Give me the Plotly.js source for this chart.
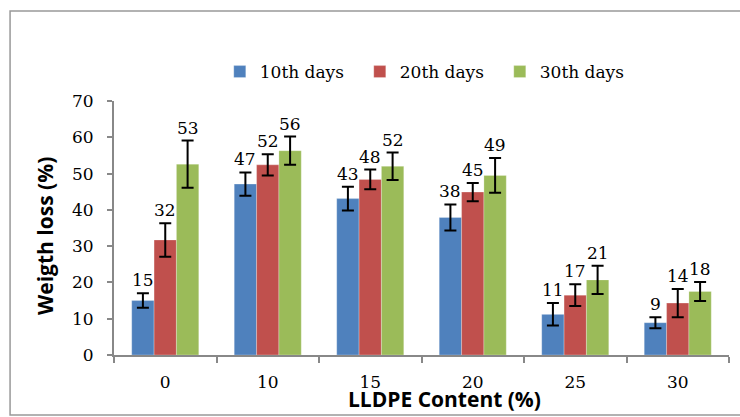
<!DOCTYPE html>
<html>
<head>
<meta charset="utf-8">
<script src="https://cdn.plot.ly/plotly-3.0.1.min.js"></script>
<style>html,body{margin:0;padding:0;background:#fff;}#chart{width:740px;height:417px;}</style>
</head>
<body>
<div id="chart"></div>
<script>
var categories = ['0', '10', '15', '20', '25', '30'];
var seriesNames = ['10th days', '20th days', '30th days'];
var days10 = [15.0, 47.1, 43.1, 37.9, 11.2, 8.9];
var days20 = [31.7, 52.4, 48.4, 44.9, 16.5, 14.3];
var days30 = [52.6, 56.3, 52.0, 49.5, 20.7, 17.5];
var err10 = [2.0, 3.2, 3.3, 3.6, 3.1, 1.5];
var err20 = [4.6, 2.9, 2.7, 2.5, 3.0, 3.9];
var err30 = [6.5, 3.9, 3.8, 4.8, 3.9, 2.6];
var labels10 = ['15', '47', '43', '38', '11', '9'];
var labels20 = ['32', '52', '48', '45', '17', '14'];
var labels30 = ['53', '56', '52', '49', '21', '18'];
var yTicks = [0, 10, 20, 30, 40, 50, 60, 70];

var colors = ['#4F81BD', '#C0504D', '#9BBB59'];
var values = [days10, days20, days30];
var errs = [err10, err20, err30];
var labels = [labels10, labels20, labels30];
var serif = 'DejaVu Serif, Liberation Serif, serif';
var sans = 'Open Sans, Lato, sans-serif';
var bargap = 0.346;
var bw = (1 - bargap) / 3;

var traces = values.map(function (v, j) {
  return {
    type: 'bar', name: seriesNames[j], x: categories, y: v,
    marker: {color: colors[j], line: {color: 'rgba(255,255,255,0.5)', width: 0.5}},
    error_y: {type: 'data', array: errs[j], visible: true, color: '#000', thickness: 2, width: 6},
    hoverinfo: 'none'
  };
});

var annotations = [];
values.forEach(function (v, j) {
  v.forEach(function (val, i) {
    annotations.push({
      x: i + (j - 1) * bw, y: val + errs[j][i], xref: 'x', yref: 'y',
      text: labels[j][i], showarrow: false, yanchor: 'bottom', xanchor: 'center',
      yshift: 1, font: {family: serif, size: 17, color: '#000'}
    });
  });
});
annotations.push({
  text: '<b>Weigth loss (%)</b>', xref: 'paper', yref: 'paper', x: -0.112, y: 0.469,
  textangle: -90, showarrow: false, xanchor: 'center', yanchor: 'middle',
  font: {family: sans, size: 21, color: '#000'}
});
annotations.push({
  text: '<b>LLDPE Content (%)</b>', xref: 'paper', yref: 'paper', x: 0.537, y: -0.172,
  showarrow: false, xanchor: 'center', yanchor: 'middle',
  font: {family: sans, size: 21, color: '#000'}
});

var layout = {
  width: 740, height: 417,
  margin: {l: 114, r: 11, t: 101, b: 62, pad: 0},
  paper_bgcolor: '#fff', plot_bgcolor: '#fff',
  barmode: 'group', bargap: bargap, bargroupgap: 0,
  showlegend: true,
  legend: {
    orientation: 'h', x: 0.172, y: 1.114, xanchor: 'left', yanchor: 'middle',
    font: {family: serif, size: 17, color: '#000'},
    entrywidth: 95, entrywidthmode: 'pixels', traceorder: 'normal'
  },
  xaxis: {
    type: 'category', tickson: 'boundaries', ticks: 'outside', ticklen: 6, tickwidth: 2,
    tickcolor: '#888', showline: true, linecolor: '#888', linewidth: 2,
    showgrid: false, zeroline: false, ticklabelstandoff: 11,
    tickfont: {family: serif, size: 17, color: '#000'}
  },
  yaxis: {
    range: [0, 70], tickvals: yTicks, ticks: 'outside', ticklen: 5, tickwidth: 2,
    tickcolor: '#888', showline: true, linecolor: '#888', linewidth: 2,
    showgrid: false, zeroline: false, ticklabelstandoff: 10,
    tickfont: {family: serif, size: 17, color: '#000'}
  },
  annotations: annotations,
  shapes: [{
    type: 'rect', xref: 'paper', yref: 'paper',
    x0: -0.169, x1: 1.1, y0: -0.236, y1: 1.354,
    line: {color: '#999', width: 1.5}, fillcolor: 'rgba(0,0,0,0)', layer: 'below'
  }]
};

Plotly.newPlot('chart', traces, layout, {displayModeBar: false, staticPlot: true});
</script>
</body>
</html>
